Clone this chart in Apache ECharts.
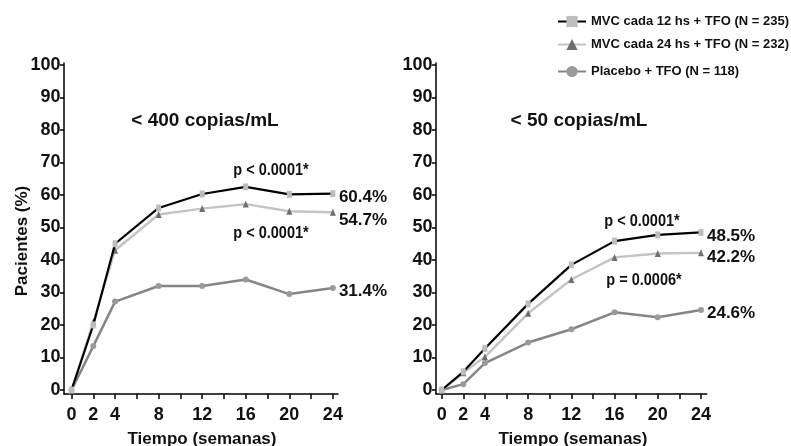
<!DOCTYPE html>
<html>
<head>
<meta charset="utf-8">
<script src="https://cdn.jsdelivr.net/npm/echarts@6/dist/echarts.min.js"></script>
<style>
html,body{margin:0;padding:0;background:#fff;}
#c{width:791px;height:446px;}
</style>
</head>
<body>
<div id="c"></div>
<script>
// ---- data ----
const weeks = [0, 2, 4, 8, 12, 16, 20, 24];
const seriesNames = ['MVC cada 12 hs + TFO (N = 235)', 'MVC cada 24 hs + TFO (N = 232)', 'Placebo + TFO (N = 118)'];
// < 400 copias/mL
const left12 = [0, 20, 45, 56, 60.3, 62.5, 60.2, 60.4];
const left24 = [0, 21, 43, 54, 55.8, 57.2, 55, 54.7];
const leftPlacebo = [0, 13.5, 27.2, 32, 32, 34, 29.5, 31.4];
// < 50 copias/mL
const right12 = [0, 5.6, 12.8, 26.5, 38.5, 45.8, 47.7, 48.5];
const right24 = [0, 5.3, 10.2, 23.6, 34, 40.8, 42, 42.2];
const rightPlacebo = [0, 1.8, 8.3, 14.6, 18.7, 23.9, 22.4, 24.6];
// ticks
const xTicks = [0, 2, 4, 6, 8, 10, 12, 14, 16, 18, 20, 22, 24];
const xTickLabels = [0, 2, 4, 8, 12, 16, 20, 24];
const yTicks = [0, 10, 20, 30, 40, 50, 60, 70, 80, 90, 100];
// texts
const panelTitles = ['< 400 copias/mL', '< 50 copias/mL'];
const pLabelsLeft = ['p < 0.0001*', 'p < 0.0001*'];
const pLabelsRight = ['p < 0.0001*', 'p = 0.0006*'];
const yAxisTitle = 'Pacientes (%)';
const xAxisTitle = 'Tiempo (semanas)';

// ---- styles ----
const ARIAL = "'Liberation Sans', Arial, sans-serif";
const styles = [
  {line: '#000000', sym: 'rect', symSize: [5, 7], symColor: '#bdbdbd', w: 2.2},
  {line: '#c4c4c4', sym: 'triangle', symSize: [6, 7], symColor: '#6e6e6e', w: 2.4},
  {line: '#858585', sym: 'circle', symSize: 6, symColor: '#9a9a9a', w: 2.5}
];
const endOffsetsLeft = [3.5, 8.5, 3.8];
const endOffsetsRight = [4, 4.3, 3.3];

function pairs(vals) { return weeks.map((w, i) => [w, vals[i]]); }

function makeSeries(vals, idx, axisIdx) {
  const s = styles[idx];
  return {
    type: 'line',
    name: seriesNames[idx],
    xAxisIndex: axisIdx, yAxisIndex: axisIdx,
    data: pairs(vals),
    symbol: s.sym, symbolSize: s.symSize, showAllSymbol: true,
    lineStyle: {color: s.line, width: s.w},
    itemStyle: {color: s.symColor},
    z: 5 - idx,
    animation: false,
    emphasis: {disabled: true}
  };
}

function xAxis(grid, min, max) {
  return {
    type: 'value', gridIndex: grid, min: min, max: max,
    axisLine: {onZero: false, lineStyle: {color: '#000', width: 1.5}},
    axisTick: {show: true, length: 5, lineStyle: {color: '#000', width: 1.5}, customValues: xTicks},
    axisLabel: {customValues: xTickLabels, margin: 12, fontFamily: ARIAL, fontWeight: 'bold', fontSize: 18, color: '#111'},
    splitLine: {show: false}
  };
}
function yAxis(grid) {
  return {
    type: 'value', gridIndex: grid, min: -1.23, max: 100.6,
    axisLine: {show: true, onZero: false, lineStyle: {color: '#000', width: 1.5}},
    axisTick: {show: true, length: 4, lineStyle: {color: '#000', width: 1.5}, customValues: yTicks},
    axisLabel: {customValues: yTicks, margin: 3.5, fontFamily: ARIAL, fontWeight: 'bold', fontSize: 18, color: '#111'},
    splitLine: {show: false}
  };
}

function legend(i, top) {
  return {
    data: [seriesNames[i]], left: 557, top: top, padding: 0,
    itemWidth: 28, itemHeight: 14, selectedMode: false,
    textStyle: {fontFamily: ARIAL, fontWeight: 'bold', fontSize: 13, color: '#111'}
  };
}

function txt(x, y, text, size, opts) {
  opts = opts || {};
  return {
    type: 'text', x: x, y: y, rotation: opts.rot || 0, scaleX: opts.sx || 1,
    style: {text: text, font: 'bold ' + size + 'px ' + ARIAL, fill: '#111',
            align: opts.align || 'center', verticalAlign: 'middle'}
  };
}

const chart = echarts.init(document.getElementById('c'), null, {renderer: 'canvas'});
const graphics = [
  txt(205, 121, panelTitles[0], 19),
  txt(579, 121, panelTitles[1], 19),
  txt(271, 170, pLabelsLeft[0], 16.5, {sx: 0.88}),
  txt(271, 233.5, pLabelsLeft[1], 16.5, {sx: 0.88}),
  txt(642, 221.5, pLabelsRight[0], 16.5, {sx: 0.88}),
  txt(644, 280.5, pLabelsRight[1], 16.5, {sx: 0.88}),
  txt(22, 241, yAxisTitle, 17, {rot: Math.PI / 2}),
  txt(202, 439, xAxisTitle, 17),
  txt(573, 439, xAxisTitle, 17)
];
chart.setOption({
  animation: false,
  backgroundColor: '#fff',
  grid: [
    {left: 64, top: 63, width: 274, height: 331},
    {left: 436, top: 63, width: 270.7, height: 331}
  ],
  xAxis: [xAxis(0, -0.69, 24.47), xAxis(1, -0.53, 24.53)],
  yAxis: [yAxis(0), yAxis(1)],
  legend: [legend(0, 15), legend(1, 38), legend(2, 65)],
  series: [
    makeSeries(leftPlacebo, 2, 0),
    makeSeries(left24, 1, 0),
    makeSeries(left12, 0, 0),
    makeSeries(rightPlacebo, 2, 1),
    makeSeries(right24, 1, 1),
    makeSeries(right12, 0, 1)
  ]
});

// end-of-line percentage labels, placed through the chart's own scales
const leftSets = [left12, left24, leftPlacebo];
const rightSets = [right12, right24, rightPlacebo];
const last = weeks.length - 1;
[[leftSets, 0, endOffsetsLeft], [rightSets, 1, endOffsetsRight]].forEach(([sets, g, offs]) => {
  sets.forEach((vals, i) => {
    const pt = chart.convertToPixel({gridIndex: g}, [weeks[last], vals[last]]);
    graphics.push(txt(pt[0] + 6, pt[1] + offs[i], vals[last].toFixed(1) + '%', 17, {align: 'left'}));
  });
});
chart.setOption({graphic: graphics});
</script>
</body>
</html>
